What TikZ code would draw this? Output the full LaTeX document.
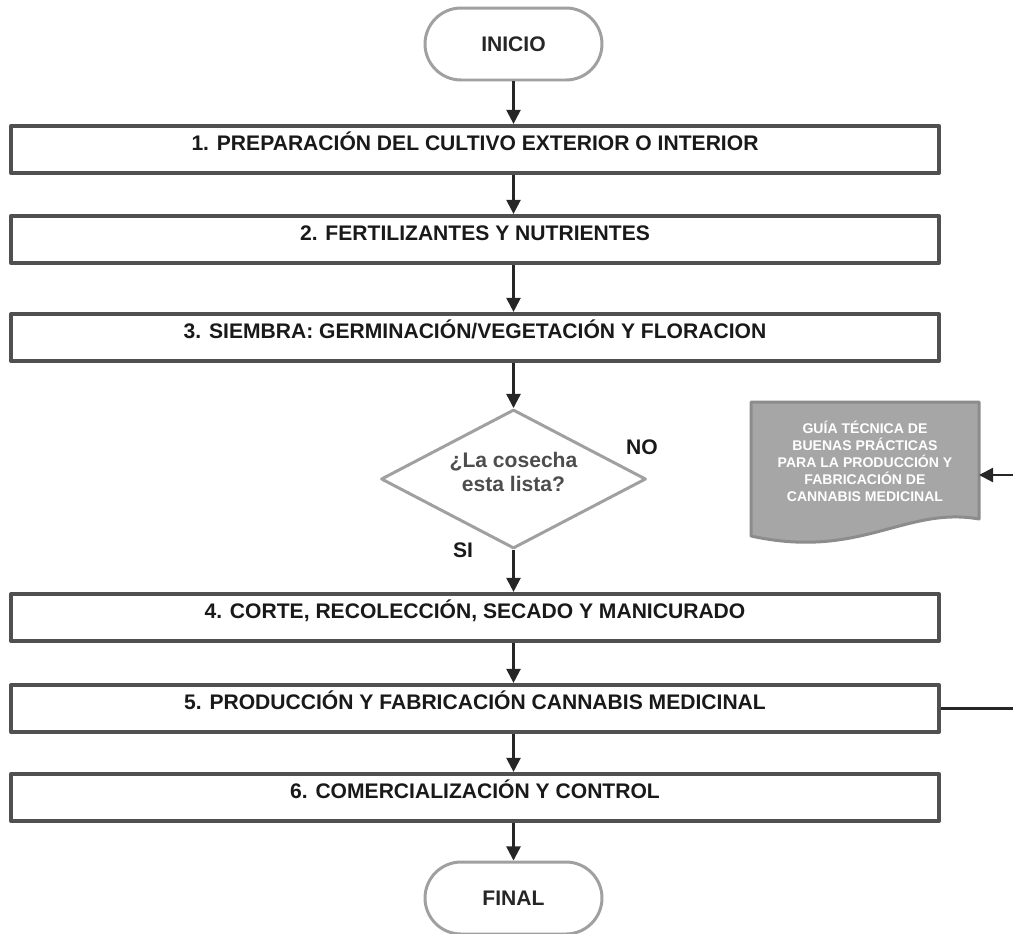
\documentclass[tikz,border=0pt]{standalone}
\usepackage{fontspec}
\setmainfont{Liberation Sans}
\usetikzlibrary{arrows.meta,shapes.geometric}
\definecolor{boxline}{HTML}{505050}
\definecolor{termline}{HTML}{A0A0A0}
\definecolor{docfill}{HTML}{A6A6A6}
\definecolor{docline}{HTML}{8C8C8C}
\definecolor{asktext}{HTML}{4D4D4D}
\begin{document}
\begin{tikzpicture}[x=.02cm,y=-.02cm,line join=round,
  stepbox/.style={draw=boxline,line width=2.4pt,minimum width=18.56cm,minimum height=.94cm,inner sep=0pt,
    font=\fontsize{12}{14}\selectfont\bfseries,text=black!90,text height=9pt,text depth=8.4pt},
  endbox/.style={draw=termline,line width=1.7pt,rounded corners=.72cm,minimum width=3.54cm,minimum height=1.44cm,
    font=\fontsize{12}{14}\selectfont\bfseries,text=black!85},
  askbox/.style={diamond,aspect=1.9,draw=termline,line width=1.7pt,minimum width=5.3cm,minimum height=2.78cm,inner sep=0pt,
    align=center,text=asktext,font=\fontsize{12}{13.7}\selectfont\bfseries,text depth=8pt},
  answer/.style={font=\fontsize{12}{14}\selectfont\bfseries,text=black!90,inner sep=0pt},
  doctext/.style={align=center,text=white,font=\fontsize{8}{9.7}\selectfont\bfseries,inner sep=0pt},
  docshape/.style={draw=docline,fill=docfill,line width=1.7pt},
  flow/.style={draw=black!85,line width=1.3pt,-{Triangle[length=8pt,width=8pt]}}]
\useasboundingbox (0,0) rectangle (1013,933);
% terminals
\node[endbox] (start) at (513.5,44) {INICIO};
\node[endbox] (stop) at (513.5,898) {FINAL};
% process steps
\node[stepbox] (s1) at (475,149.5) {1. PREPARACIÓN DEL CULTIVO EXTERIOR O INTERIOR};
\node[stepbox] (s2) at (475,239.5) {2. FERTILIZANTES Y NUTRIENTES};
\node[stepbox] (s3) at (475,337.5) {3. SIEMBRA: GERMINACIÓN/VEGETACIÓN Y FLORACION};
\node[stepbox] (s4) at (475,617.5) {4. CORTE, RECOLECCIÓN, SECADO Y MANICURADO};
\node[stepbox] (s5) at (475,708.5) {5. PRODUCCIÓN Y FABRICACIÓN CANNABIS MEDICINAL};
\node[stepbox] (s6) at (475,797.5) {6. COMERCIALIZACIÓN Y CONTROL};
% decision
\node[askbox] (ask) at (513.5,479) {¿La cosecha\\esta lista?};
\node[answer] (no) at (642,447) {NO};
\node[answer] (si) at (463,550) {SI};
% guide document
\draw[docshape] (751,402) -- (979,402) -- (979,519)
  .. controls (905,506) and (860,560) .. (751,536) -- cycle;
\coordinate (docin) at (979,475);
\node[doctext] (doc) at (865,461) {GUÍA TÉCNICA DE\\BUENAS PRÁCTICAS\\PARA LA PRODUCCIÓN Y\\FABRICACIÓN DE\\CANNABIS MEDICINAL};
% connectors
\draw[flow] (start) -- (start |- s1.north);
\draw[flow] (s1.south -| start) -- (s2.north -| start);
\draw[flow] (s2.south -| start) -- (s3.north -| start);
\draw[flow] (s3.south -| start) -- (ask.north);
\draw[flow] (ask.south) -- (s4.north -| ask);
\draw[flow] (s4.south -| start) -- (s5.north -| start);
\draw[flow] (s5.south -| start) -- (s6.north -| start);
\draw[flow] (s6.south -| start) -- (stop);
\draw[flow] (s5.east) -- ++(95,0) |- (docin);
\end{tikzpicture}
\end{document}
